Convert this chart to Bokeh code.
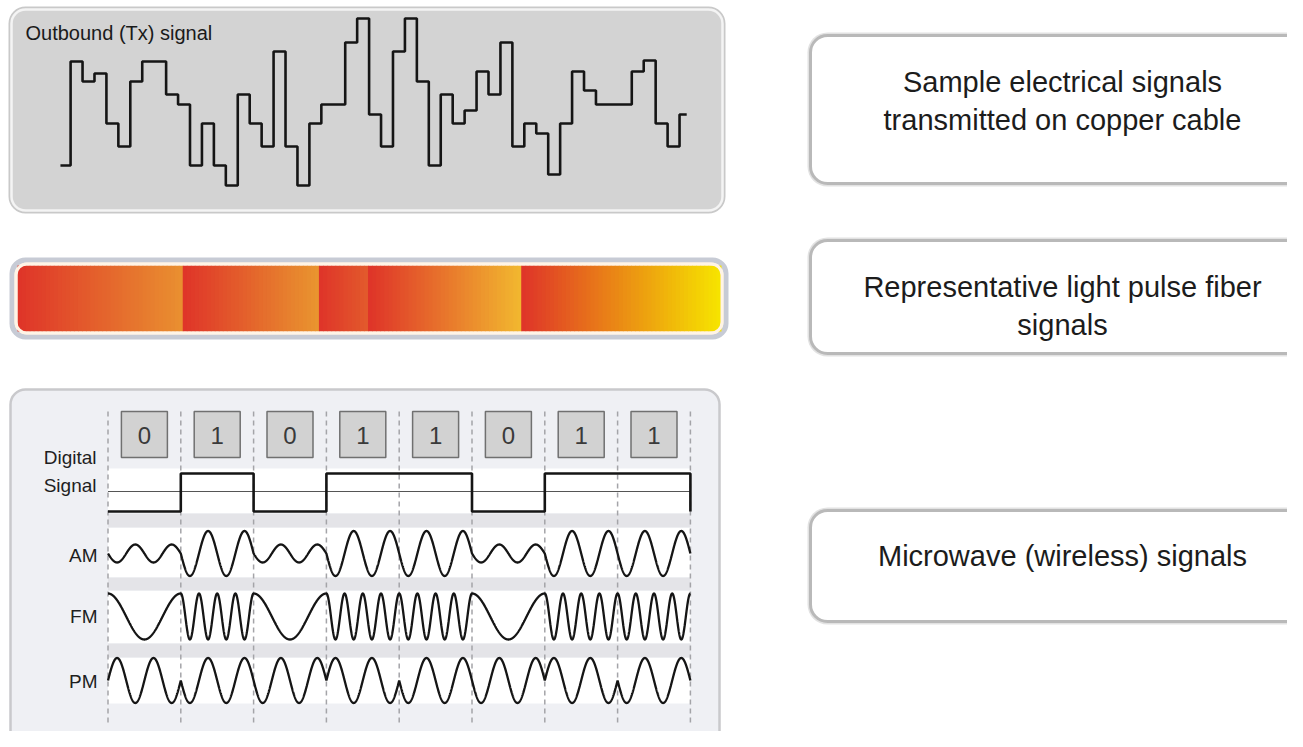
import numpy as np
from bokeh.plotting import figure
from bokeh.models import BoxAnnotation, Range1d
from bokeh.core.properties import value
from bokeh.embed import file_html
from bokeh.resources import INLINE

# ---------------- data ----------------
# Outbound (Tx) copper signal: level held during each clock slot (first value = lead-in)
tx_levels = [22, 126, 106, 114, 64, 41, 106, 126, 126, 93, 83, 22, 64, 22, 2, 93, 64,
             41, 136, 41, 2, 64, 83, 83, 145, 169, 73, 41, 136, 169, 106, 22, 93, 64,
             77, 116, 93, 145, 41, 64, 54, 13, 64, 116, 97, 83, 83, 83, 116, 127, 64,
             41, 73]
tx_label = "Outbound (Tx) signal"

# Fibre light pulses: relative durations and colour at the end of each pulse
pulse_lengths = [165, 136, 49, 153, 199]
pulse_start_color = "#df3529"
pulse_end_colors = ["#e98f30", "#e9942f", "#e2592c", "#f1b62f", "#f6e300"]

# Wireless modulation example
bits = [0, 1, 0, 1, 1, 0, 1, 1]
am_amplitude = {0: 9.0, 1: 22.5}
fm_cycles = {0: 1, 1: 4}
pm_cycles = 2
row_labels = ["AM", "FM", "PM"]

# Right-hand captions
captions = [["Sample electrical signals", "transmitted on copper cable"],
            ["Representative light pulse fiber", "signals"],
            ["Microwave (wireless) signals"]]

FONT = value("Liberation Sans")

# ---------------- figure ----------------
W, H = 1287, 731
p = figure(width=W, height=H, x_range=Range1d(0, W), y_range=Range1d(0, H),
           output_backend="svg", toolbar_location=None, min_border=0,
           x_axis_location=None, y_axis_location=None)
p.xgrid.visible = False
p.ygrid.visible = False
p.outline_line_color = None
p.background_fill_color = "white"
p.border_fill_color = "white"


def Y(py):
    return H - py


def rbox(l, r, t, b, fill, line=None, lw=0, radius=12, level="underlay", fill_alpha=1.0):
    bx = BoxAnnotation(left=l, right=r, top=Y(t), bottom=Y(b),
                       fill_color=fill if fill else "white", fill_alpha=fill_alpha if fill else 0,
                       line_color=line if line else "white", line_alpha=1 if line else 0,
                       line_width=lw, border_radius=radius, level=level)
    p.add_layout(bx)


# ---------------- top panel: copper signal ----------------
rbox(8, 725, 6, 213, "#c9c9c9", radius=17)
rbox(11, 722, 9, 210, "#d3d3d3", line="#f4f4f4", lw=2.5, radius=14)

slot_x0, slot_dx, base_y = 70.1, 11.94, 187
xs = [-0.85] + list(range(len(tx_levels) - 1)) + [51.6]
ys = tx_levels + [tx_levels[-1]]
p.step([slot_x0 + slot_dx * s for s in xs], [Y(base_y - v) for v in ys],
       mode="after", line_color="#151515", line_width=2.6)
p.text(x=[25], y=[Y(32)], text=[tx_label], text_font=FONT, text_font_size="20px",
       text_color="#1a1a1a", text_align="left", text_baseline="middle")

# ---------------- middle bar: light pulses ----------------
rbox(9, 728, 257, 339, "#c7cbd5", radius=16)
rbox(14, 723, 262, 334, "#fff4e6", radius=12)

bar_l, bar_r, bar_t, bar_b = 17, 720, 265, 331
total = float(sum(pulse_lengths))
c0 = np.array([int(pulse_start_color[i:i + 2], 16) for i in (1, 3, 5)], float)
lefts, rights, cols = [], [], []
pos = 0.0
for length, ce in zip(pulse_lengths, pulse_end_colors):
    c1 = np.array([int(ce[i:i + 2], 16) for i in (1, 3, 5)], float)
    x_a = bar_l + (bar_r - bar_l) * pos / total
    x_b = bar_l + (bar_r - bar_l) * (pos + length) / total
    n = max(int((x_b - x_a) / 4.0), 2)
    edges = np.linspace(x_a, x_b, n + 1)
    for i in range(n):
        f = i / max(n - 1, 1)
        c = c0 + (c1 - c0) * f
        lefts.append(edges[i])
        rights.append(edges[i + 1] + 1.0)
        cols.append("#%02x%02x%02x" % tuple(int(round(v)) for v in c))
    pos += length
p.quad(left=lefts, right=rights, top=Y(bar_t), bottom=Y(bar_b), fill_color=cols,
       line_color=None)
rbox(15.5, 721.5, 263.5, 332.5, None, line="#fff4e6", lw=3, radius=11, level="annotation")

# ---------------- bottom panel: modulation ----------------
rbox(10, 719, 389, 770, "#eff0f4", line="#c9c9cc", lw=2.5, radius=15)

cell_x0, cell_w = 107.5, 72.8
n_bits = len(bits)
x_end = cell_x0 + cell_w * n_bits

# white signal rows and grey separators
rows = [(468, 513), (527, 577), (590, 643), (657, 703)]
p.quad(left=cell_x0, right=x_end, top=[Y(a) for a, b in rows], bottom=[Y(b) for a, b in rows],
       fill_color="white", line_color=None)
seps = [(513, 527), (577, 590), (643, 657)]
p.quad(left=cell_x0, right=x_end, top=[Y(a) for a, b in seps], bottom=[Y(b) for a, b in seps],
       fill_color="#e4e4e8", line_color=None)

# dashed cell boundaries
bx = [cell_x0 + cell_w * k for k in range(n_bits + 1)]
p.multi_line(xs=[[x, x] for x in bx], ys=[[Y(411), Y(726)] for _ in bx],
             line_color="#a4a4a8", line_width=1.5, line_dash="5 4")

# bit boxes
centers = [cell_x0 + cell_w * (k + 0.5) for k in range(n_bits)]
p.rect(x=centers, y=Y(434), width=46, height=46, fill_color="#d2d2d2",
       line_color="#707070", line_width=1.5)
p.text(x=centers, y=Y(435), text=[str(b) for b in bits], text_font=FONT,
       text_font_size="24px", text_color="#3a3a3a", text_align="center",
       text_baseline="middle")

# digital signal
d_hi, d_lo = 473, 511
p.line([cell_x0, x_end], [Y(491), Y(491)], line_color="#555555", line_width=1.1)
dx = [cell_x0 + cell_w * k for k in range(n_bits)] + [x_end, x_end]
dy = [Y(d_hi if b else d_lo) for b in bits] + [Y(d_hi if bits[-1] else d_lo), Y(d_lo)]
p.step(dx, dy, mode="after", line_color="#151515", line_width=2.6)

# modulated waveforms
t = np.linspace(0, n_bits, 4000, endpoint=False)
t = np.append(t, n_bits - 1e-9)
cell = np.minimum(t.astype(int), n_bits - 1)
frac = t - cell
bit_arr = np.array(bits)[cell]
wx = cell_x0 + cell_w * t

am = np.array([am_amplitude[b] for b in bit_arr]) * -np.sin(2 * np.pi * 2 * frac)
fm_f = np.array([fm_cycles[b] for b in bit_arr])
fm = 23.0 * np.cos(2 * np.pi * fm_f * frac)
ones_cum = np.cumsum(bits)[cell]
pm = 22.5 * np.sin(2 * np.pi * pm_cycles * frac + np.pi * ones_cum)

for centre, wave in zip([553, 616, 680], [am, fm, pm]):
    p.line(wx, Y(centre - wave), line_color="#151515", line_width=2.3)

# labels
p.text(x=[96, 96], y=[Y(457), Y(485)], text=["Digital", "Signal"], text_font=FONT,
       text_font_size="19px", text_color="#1e1e1e", text_align="right", text_baseline="middle")
p.text(x=[97, 97, 97], y=[Y(555), Y(616), Y(681)], text=row_labels, text_font=FONT,
       text_font_size="19px", text_color="#1e1e1e", text_align="right", text_baseline="middle")

# ---------------- right-hand caption boxes ----------------
box_rows = [(33, 185), (238, 355), (508, 623)]
for (bt, bb), lines in zip(box_rows, captions):
    rbox(807, 1340, bt - 1, bb + 1, "#e2e2e2", radius=20)
    rbox(810, 1337, bt + 2, bb - 2, "white", line="#b9b9b9", lw=3, radius=17)
    if len(lines) == 2:
        ys_t = [(bt + bb) / 2 - 28, (bt + bb) / 2 + 10] if bb - bt > 130 else [(bt + bb) / 2 - 10, (bt + bb) / 2 + 28]
    else:
        ys_t = [(bt + bb) / 2 - 10]
    p.text(x=[1062] * len(lines), y=[Y(v) for v in ys_t], text=lines, text_font=FONT,
           text_font_size="29px", text_color="#1c1c1c", text_align="center",
           text_baseline="middle")

open("out.html", "w").write(file_html(p, INLINE))
